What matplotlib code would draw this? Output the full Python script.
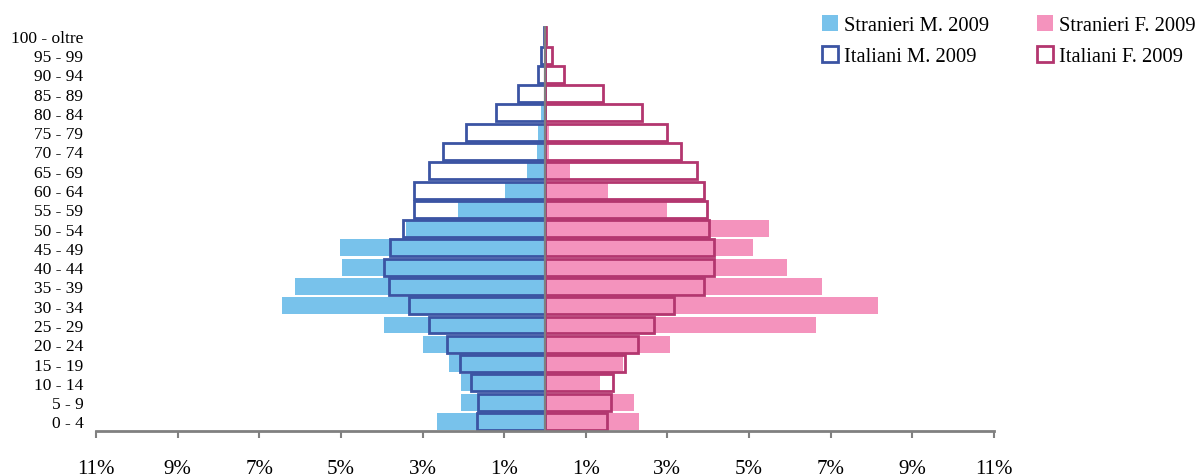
import matplotlib.pyplot as plt
import numpy as np

plt.rcParams['font.family'] = ['Liberation Serif', 'DejaVu Serif']

age_groups = ['0 - 4', '5 - 9', '10 - 14', '15 - 19', '20 - 24', '25 - 29', '30 - 34',
              '35 - 39', '40 - 44', '45 - 49', '50 - 54', '55 - 59', '60 - 64', '65 - 69',
              '70 - 74', '75 - 79', '80 - 84', '85 - 89', '90 - 94', '95 - 99', '100 - oltre']

# percentages, from 0-4 upwards
stranieri_m = [2.64, 2.05, 2.05, 2.35, 2.99, 3.94, 6.44, 6.12, 4.98, 5.01, 3.41,
               2.12, 0.97, 0.43, 0.19, 0.16, 0.09, 0.03, 0.0, 0.0, 0.0]
italiani_m = [1.66, 1.63, 1.82, 2.07, 2.40, 2.83, 3.32, 3.83, 3.95, 3.79, 3.48,
              3.20, 3.20, 2.85, 2.51, 1.94, 1.20, 0.67, 0.17, 0.09, 0.02]
stranieri_f = [2.31, 2.19, 1.36, 1.91, 3.07, 6.63, 8.15, 6.78, 5.94, 5.09, 5.49,
               2.98, 1.55, 0.62, 0.11, 0.11, 0.03, 0.0, 0.0, 0.0, 0.0]
italiani_f = [1.51, 1.62, 1.67, 1.95, 2.27, 2.68, 3.17, 3.90, 4.15, 4.15, 4.01,
              3.97, 3.89, 3.73, 3.33, 3.00, 2.38, 1.42, 0.47, 0.18, 0.02]

xticks = [-11, -9, -7, -5, -3, -1, 1, 3, 5, 7, 9, 11]

c_sm = '#78C2EB'
c_sf = '#F493BD'
c_im = '#3B54A3'
c_if = '#B3366F'
grey = '#808080'

y = np.arange(len(age_groups))

fig = plt.figure(figsize=(11.98, 4.77), dpi=100)
ax = fig.add_axes([0.0801, 0.0943, 0.7496, 0.8487])

h = 0.88
ax.barh(y, -np.array(stranieri_m), height=h, color=c_sm, label='Stranieri M. 2009', zorder=1)
ax.barh(y, stranieri_f, height=h, color=c_sf, label='Stranieri F. 2009', zorder=1)
ax.barh(y, -np.array(italiani_m), height=h, fill=False, edgecolor=c_im, linewidth=2,
        label='Italiani M. 2009', zorder=2)
ax.barh(y, italiani_f, height=h, fill=False, edgecolor=c_if, linewidth=2,
        label='Italiani F. 2009', zorder=2)

ax.axvline(0, color=grey, linewidth=1.6, zorder=3)

ax.set_xlim(-11, 11)
ax.set_ylim(-0.5, len(age_groups) - 0.5)
ax.set_xticks(xticks)
ax.set_xticklabels([f'{abs(v)}%' for v in xticks], fontsize=15)
ax.set_yticks(y)
ax.set_yticklabels(age_groups, fontsize=12.5)

for s in ['top', 'right', 'left']:
    ax.spines[s].set_visible(False)
ax.spines['bottom'].set_color(grey)
ax.spines['bottom'].set_linewidth(2)
ax.tick_params(axis='x', direction='out', length=5, width=1.5, color=grey, pad=15)
ax.tick_params(axis='y', length=0, pad=9)

handles, labels = ax.get_legend_handles_labels()
order = [0, 2, 1, 3]
fig.legend([handles[i] for i in order], [labels[i] for i in order],
           loc='upper left', bbox_to_anchor=(0.6705, 1.005), ncol=2, frameon=False,
           fontsize=14.8, handlelength=0.8, handleheight=0.8, handletextpad=0.3,
           columnspacing=2.3, labelspacing=0.55)

fig.savefig('out.png', dpi=100)
